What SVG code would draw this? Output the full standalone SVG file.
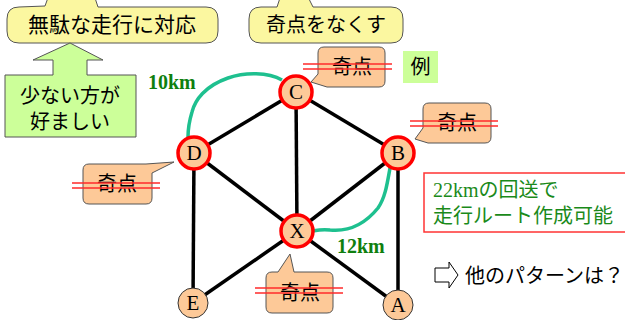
<svg xmlns="http://www.w3.org/2000/svg" width="625" height="320" viewBox="0 0 625 320">
<style>
.jp{font-family:"Noto Sans CJK JP","Liberation Sans",sans-serif;fill:#000}
.yc{fill:#fbf7a0;stroke:#555;stroke-width:1}
.oc{fill:#fdc998;stroke:#555;stroke-width:1}
.edge{stroke:#000;stroke-width:3.5;fill:none}
.route{stroke:#1ec08f;stroke-width:3.5;fill:none}
.node{fill:#fdc998;stroke:#ff0000;stroke-width:3.5}
.nodeplain{fill:#fdc998;stroke:#333;stroke-width:1}
.lbl{font-family:"Liberation Serif",serif;font-size:21px;fill:#000;text-anchor:middle}
.km{font-family:"Liberation Serif",serif;font-weight:bold;font-size:20px;fill:#0f7f0f}
.strike{stroke:#ff2a2a;stroke-width:1.6}
</style>
<rect width="625" height="320" fill="#fff"/>

<g id="callout-muda">
<path class="yc" d="M19 7 L45 6 L49 -5 L94 -5 L98 7 L206 7 Q218 7 218 19 L218 31 Q218 43 206 43 L19 43 Q7 43 7 31 L7 19 Q7 7 19 7 Z"/>
<text class="jp" x="112" y="32" font-size="21" text-anchor="middle">無駄な走行に対応</text>
</g>

<g id="callout-kiten">
<path class="yc" d="M261 7 L277 7 L281 -5 L307 -5 L313 7 L391 7 Q403 7 403 19 L403 31 Q403 43 391 43 L261 43 Q249 43 249 31 L249 19 Q249 7 261 7 Z"/>
<text class="jp" x="326" y="32" font-size="20" text-anchor="middle">奇点をなくす</text>
</g>

<g id="arrow-sukunai">
<polygon points="5,75 53,75 53,60 33,60 70,43 103,60 87,60 87,75 136,75 136,137 5,137" fill="#ccff99" stroke="#555" stroke-width="1"/>
<text class="jp" x="70" y="103" font-size="20" text-anchor="middle">少ない方が</text>
<text class="jp" x="70" y="129" font-size="20" text-anchor="middle">好ましい</text>
</g>

<g id="connectors">
<line class="edge" x1="194" y1="153" x2="296" y2="92"/>
<line class="edge" x1="296" y1="92" x2="398" y2="153"/>
<line class="edge" x1="296" y1="92" x2="297" y2="231"/>
<line class="edge" x1="194" y1="153" x2="297" y2="231"/>
<line class="edge" x1="398" y1="153" x2="297" y2="231"/>
<line class="edge" x1="194" y1="153" x2="193" y2="303"/>
<line class="edge" x1="297" y1="231" x2="193" y2="303"/>
<line class="edge" x1="297" y1="231" x2="398" y2="305"/>
<line class="edge" x1="398" y1="153" x2="398" y2="305"/>
<path class="route" d="M282 80 C268 72 245 72 228 78 C205 86 195 100 192 112 C189 122 188 130 188 137"/>
<path class="route" d="M390 168 C387 185 385 198 378 208 C365 224 350 232 330 230 C322 229 318 230 313 231"/>
<text class="km" x="148" y="89">10km</text>
<text class="km" x="337" y="253">12km</text>
</g>

<g id="node-C"><circle class="node" cx="296" cy="92" r="16"/><text class="lbl" x="296" y="99">C</text></g>
<g id="node-D"><circle class="node" cx="194" cy="153" r="16"/><text class="lbl" x="194" y="160">D</text></g>
<g id="node-B"><circle class="node" cx="398" cy="153" r="16"/><text class="lbl" x="398" y="160">B</text></g>
<g id="node-X"><circle class="node" cx="297" cy="231" r="16"/><text class="lbl" x="297" y="238">X</text></g>
<g id="node-E"><circle class="nodeplain" cx="193" cy="303" r="15"/><text class="lbl" x="193" y="310">E</text></g>
<g id="node-A"><circle class="nodeplain" cx="398" cy="305" r="15"/><text class="lbl" x="398" y="312">A</text></g>

<g id="kiten-C">
<path class="oc" d="M324 47 L379 47 Q385 47 385 53 L385 81 Q385 87 379 87 L327 87 L311 82 L318 74 L318 53 Q318 47 324 47 Z"/>
<text class="jp" x="352" y="74" font-size="20" text-anchor="middle">奇点</text>
<line class="strike" x1="303" y1="64" x2="392" y2="64"/>
<line class="strike" x1="303" y1="69" x2="392" y2="69"/>
</g>

<g id="rei">
<rect x="403" y="51" width="35" height="32" fill="#ccff99"/>
<text class="jp" x="420.5" y="74" font-size="20" text-anchor="middle">例</text>
</g>

<g id="kiten-B">
<path class="oc" d="M429 103 L485 103 Q491 103 491 109 L491 137 Q491 143 485 143 L428 143 L415 139 L423 128 L423 109 Q423 103 429 103 Z"/>
<text class="jp" x="457" y="130" font-size="20" text-anchor="middle">奇点</text>
<line class="strike" x1="410" y1="121" x2="498" y2="121"/>
<line class="strike" x1="410" y1="126" x2="498" y2="126"/>
</g>

<g id="kiten-D">
<path class="oc" d="M89 164 L146 164 L174 162 L152 173 L152 198 Q152 204 146 204 L89 204 Q83 204 83 198 L83 170 Q83 164 89 164 Z"/>
<text class="jp" x="117" y="191" font-size="20" text-anchor="middle">奇点</text>
<line class="strike" x1="72" y1="183" x2="160" y2="183"/>
<line class="strike" x1="72" y1="188" x2="160" y2="188"/>
</g>

<g id="kiten-X">
<path class="oc" d="M272 272 L278 272 L290 254 L294 272 L327 272 Q333 272 333 278 L333 307 Q333 313 327 313 L272 313 Q266 313 266 307 L266 278 Q266 272 272 272 Z"/>
<text class="jp" x="300" y="300" font-size="20" text-anchor="middle">奇点</text>
<line class="strike" x1="255" y1="288" x2="343" y2="288"/>
<line class="strike" x1="255" y1="293" x2="343" y2="293"/>
</g>

<g id="note-22km">
<rect x="424" y="173" width="203" height="59" fill="#fff" stroke="#ff3333" stroke-width="1.5"/>
<text x="433" y="197" font-size="20" fill="#1a8a1a"><tspan font-family="Liberation Serif,serif">22km</tspan><tspan font-family="Noto Sans CJK JP,sans-serif">の回送で</tspan></text>
<text x="433" y="223" font-size="20" fill="#1a8a1a" font-family="Noto Sans CJK JP,sans-serif">走行ルート作成可能</text>
</g>

<g id="other-patterns">
<polygon points="435,268 449,268 449,262 458,275 449,288 449,282 435,282" fill="#fff" stroke="#000" stroke-width="1"/>
<text class="jp" x="465" y="283" font-size="20">他のパターンは？</text>
</g>
</svg>
